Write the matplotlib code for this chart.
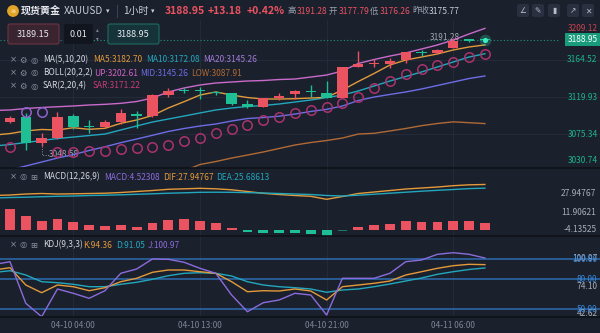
import numpy as np
import matplotlib
matplotlib.use("Agg")
import matplotlib.pyplot as plt
from matplotlib.patches import FancyBboxPatch, Circle
from matplotlib import transforms

plt.rcParams['font.family'] = ['Noto Sans CJK SC', 'DejaVu Sans']

# ---- data (1h candles, 04-10 00:00 .. 04-11 08:00) ----
opens = [3090.2, 3095.8, 3064.1, 3070.2, 3097.0, 3084.4, 3083.4, 3090.2, 3099.1, 3097.0,
         3122.3, 3127.5, 3127.8, 3126.3, 3124.4, 3111.1, 3107.5, 3119.1, 3123.2, 3127.2,
         3125.1, 3118.7, 3156.5, 3160.1, 3159.7, 3164.5, 3173.8, 3172.6, 3178.6, 3188.6, 3189.3]
highs = [3097.0, 3101.0, 3076.6, 3102.2, 3099.4, 3092.2, 3092.2, 3105.5, 3103.1, 3123.6,
         3131.1, 3130.8, 3132.4, 3127.5, 3124.8, 3116.3, 3118.7, 3124.4, 3128.4, 3134.4,
         3139.2, 3156.5, 3175.7, 3165.4, 3166.6, 3174.5, 3176.6, 3177.4, 3191.28, 3190.4, 3190.5]
lows = [3088.6, 3056.1, 3061.0, 3068.9, 3081.4, 3076.2, 3082.2, 3087.0, 3082.2, 3096.4,
        3119.6, 3124.8, 3117.2, 3122.3, 3110.9, 3106.3, 3107.3, 3116.3, 3117.5, 3119.6,
        3118.4, 3118.4, 3156.5, 3156.5, 3154.5, 3161.3, 3169.7, 3171.4, 3178.6, 3186.2, 3187.8]
closes = [3095.0, 3064.9, 3070.2, 3096.2, 3083.4, 3083.4, 3089.4, 3100.3, 3097.0, 3122.3,
          3127.2, 3126.6, 3126.6, 3124.4, 3111.5, 3107.5, 3118.4, 3121.5, 3127.2, 3126.0,
          3119.1, 3155.7, 3159.3, 3160.9, 3163.7, 3173.8, 3172.6, 3176.6, 3187.8, 3188.0, 3188.95]
low_mark = 3048.58   # marked period low (index 2)

sar = [3059.3, 3101.9, 3101.9, 3053.1, 3053.7, 3054.9, 3054.9, 3056.7, 3058.5, 3060.0,
       3062.7, 3066.9, 3071.1, 3076.6, 3081.4, 3086.8, 3092.2, 3096.4, 3100.3, 3104.3,
       3108.3, 3113.1, 3119.9, 3130.2, 3139.8, 3147.7, 3153.7, 3158.1, 3162.1, 3167.8, 3171.22]

# line series start one bar before the first visible candle
ma5 = [3074.1, 3075.9, 3079.0, 3080.8, 3080.2, 3082.9, 3081.0, 3082.2, 3088.2, 3092.2, 3097.6,
       3106.7, 3114.3, 3122.3, 3126.0, 3122.3, 3119.3, 3117.5, 3117.5, 3117.9, 3118.7, 3119.6,
       3128.4, 3138.6, 3148.3, 3158.5, 3164.5, 3168.1, 3171.8, 3176.6, 3180.2, 3182.70]
ma10 = [3060.9, 3062.7, 3065.1, 3067.5, 3069.9, 3071.7, 3073.5, 3075.3, 3080.2, 3085.0, 3089.8,
        3093.4, 3097.0, 3100.7, 3104.3, 3106.7, 3108.5, 3109.7, 3111.5, 3113.9, 3116.3, 3119.3,
        3122.3, 3127.2, 3133.2, 3139.2, 3144.6, 3150.1, 3156.1, 3162.1, 3168.1, 3172.08]
boll_up = [3103.7, 3104.3, 3106.1, 3107.3, 3108.2, 3109.1, 3110.3, 3111.1, 3112.3, 3114.5, 3118.7,
           3126.0, 3130.8, 3134.4, 3136.8, 3138.0, 3139.2, 3139.8, 3141.0, 3141.6, 3144.0, 3146.4,
           3151.3, 3160.3, 3165.1, 3169.3, 3173.0, 3177.8, 3182.6, 3188.6, 3195.9, 3202.61]
boll_mid = [3028.3, 3032.0, 3036.8, 3041.6, 3046.4, 3050.6, 3055.5, 3060.0, 3064.9, 3069.3, 3073.8,
            3078.4, 3082.0, 3085.0, 3087.4, 3091.0, 3094.0, 3095.2, 3096.8, 3099.4, 3102.5, 3105.1,
            3109.1, 3115.7, 3119.9, 3123.0, 3126.0, 3129.6, 3133.8, 3138.0, 3142.2, 3145.26]
boll_low = [np.nan] * 12 + [3030.8, 3038.6, 3042.2, 3046.4, 3050.0, 3053.7, 3057.9, 3062.1, 3065.1,
                            3067.5, 3070.5, 3075.3, 3076.2, 3079.0, 3082.0, 3085.4, 3088.0, 3090.0,
                            3089.0, 3087.91]

dif = [21.22, 21.52, 22.13, 22.44, 22.13, 22.26, 22.44, 22.62, 23.05, 23.66, 24.27, 25.0, 25.30,
       25.61, 25.30, 24.70, 23.66, 22.56, 21.83, 21.22, 20.73, 18.90, 20.61, 22.44, 23.35, 24.27,
       25.18, 25.79, 26.40, 27.20, 27.74, 27.95]
dea = [19.70, 20.0, 20.18, 20.49, 20.73, 20.91, 21.22, 21.40, 21.65, 21.95, 22.26, 22.62, 22.87,
       23.17, 23.23, 23.17, 22.99, 22.74, 22.44, 22.13, 21.83, 21.22, 20.91, 21.40, 22.01, 22.62,
       23.23, 23.84, 24.39, 24.88, 25.43, 25.69]
macd_hist = [13.0, 9.0, 5.9, 6.9, 5.1, 3.2, 2.6, 3.2, 2.3, 4.5, 6.3, 6.9, 5.9, 4.7, 1.2, -1.2,
             -1.8, -1.8, -1.8, -2.0, -3.2, -0.3, 2.0, 3.5, 3.8, 5.5, 5.1, 5.1, 5.5, 5.5, 4.52]

k_line = [89, 91.3, 74, 66.3, 74, 72.3, 68.3, 71.3, 77.3, 80.7, 86.7, 89, 89, 87.3, 85.7, 77.3,
          67.3, 68.3, 68, 70, 68, 59, 72.3, 74, 75.7, 78, 84, 87.3, 90.7, 93.3, 94.7, 94.36]
d_line = [86.5, 88.3, 84, 77.3, 76.3, 74.7, 72.3, 72.3, 74.7, 76.7, 79.7, 83.3, 85.7, 86.3, 85.7,
          83, 77.3, 74, 72.3, 71.3, 70, 66.7, 69, 70, 72.3, 75, 78, 81, 84.7, 87.3, 89.5, 91.05]
j_line = [94.5, 97.3, 55.7, 42.3, 70, 65.7, 60.7, 68.3, 85.7, 90, 100, 99.7, 96.7, 90.7, 85.7, 64,
          47.3, 56.3, 59, 65.7, 64, 44, 80.7, 80.7, 80.7, 85.7, 97.3, 99, 104.7, 106.3, 104.7, 100.97]

time_ticks = [4, 12, 20, 28]
time_labels = ['04-10 04:00', '04-10 13:00', '04-10 21:00', '04-11 06:00']
price_ticks = [3164.52, 3119.93, 3075.34]

# ---- colours ----
BG = '#1b202d'
RED = '#eb5361'
GREEN = '#1fbf95'
ORANGE = '#e39a3b'
TEAL = '#22a7bd'
PINK = '#c96bcb'
BLUE = '#6d6de6'
BROWN = '#b06a35'
PURPLE = '#8b6cdc'
SARC = '#ab336d'
SARC_TOP = '#8f62cc'
GREY = '#9aa1ad'
GRID = '#242a38'

W, H = 600, 333
fig = plt.figure(figsize=(6, 3.33), dpi=100, facecolor=BG)


def pane(top, bottom):
    a = fig.add_axes([0, 1 - bottom / H, 1, (bottom - top) / H])
    a.set_facecolor(BG)
    a.set_xlim(-0.63, 37.27)
    a.set_xticks([])
    a.set_yticks([])
    for s in a.spines.values():
        s.set_visible(False)
    for t in time_ticks:
        a.axvline(t, color=GRID, lw=0.8, zorder=0)
    return a


ax = pane(20, 168)
axm = pane(168, 236)
axk = pane(236, 317)

idx = np.arange(len(closes))
lx = np.arange(-1, len(closes))

# ---- main pane ----
ax.set_ylim(3034.4, 3212.7)
for p in price_ticks:
    ax.axhline(p, color=GRID, lw=0.8, zorder=0)

ax.plot(lx, boll_up, color=PINK, lw=1.0, zorder=2)
ax.plot(lx, boll_low, color=BROWN, lw=1.0, zorder=2)
ax.plot(lx, boll_mid, color=BLUE, lw=1.0, zorder=2)
ax.plot(lx, ma10, color=TEAL, lw=1.0, zorder=2)
ax.plot(lx, ma5, color=ORANGE, lw=1.0, zorder=2)

o = np.array(opens); c = np.array(closes)
cols = [RED if cc > oo else GREEN for oo, cc in zip(o, c)]
ax.vlines(idx, lows, highs, colors=cols, lw=1.0, zorder=3)
ax.bar(idx, np.maximum(np.abs(c - o), 1.3), bottom=np.minimum(o, c), width=0.66,
       color=cols, zorder=3)

sar_a = np.array(sar)
above = sar_a > c
ax.plot(idx[~above], sar_a[~above], 'o', ms=6.8, mfc='none', mec=SARC, mew=1.1, zorder=4)
ax.plot(idx[above], sar_a[above], 'o', ms=6.8, mfc='none', mec=SARC_TOP, mew=1.1, zorder=4)

# current price line and glowing dot
ax.axhline(closes[-1], xmin=0, xmax=0.93, color='#1f9279', lw=0.8, ls=(0, (1, 2)), zorder=1)
ax.scatter([idx[-1]], [closes[-1]], s=70, color='#2fe3b5', alpha=0.25, zorder=5, lw=0)
ax.scatter([idx[-1]], [closes[-1]], s=14, color='#3af0c0', zorder=5, lw=0)

# high / low markers
ilo = 2
ax.plot([ilo, ilo, ilo + 0.45], [lows[ilo], low_mark + 1.5, low_mark + 1.5], color='#8a909c',
        lw=0.7, ls=(0, (1, 1.5)), zorder=1)
ax.text(ilo + 0.45, low_mark + 1.8, f'{low_mark:.2f}', color='#a0a6b2', fontsize=6,
        va='center', ha='left', zorder=1)
ihi = int(np.argmax(highs))
ax.text(ihi + 0.4, highs[ihi], f'{highs[ihi]:.2f}', color='#a0a6b2', fontsize=6,
        va='center', ha='right', zorder=1)

ty = transforms.blended_transform_factory(ax.transAxes, ax.transData)
for p in price_ticks:
    ax.text(0.996, p, f'{p:.2f}', transform=ty, ha='right', va='center', fontsize=6, color='#1db38a')
ax.text(0.996, 0.94, '3209.12', transform=ax.transAxes, ha='right', va='center', fontsize=6, color='#c8434f')
ax.text(0.996, 0.05, '3030.74', transform=ax.transAxes, ha='right', va='center', fontsize=6, color='#1db38a')
ax.text(0.996, closes[-1], f'{closes[-1]:.2f}', transform=ty, ha='right', va='center', fontsize=6,
        color='white', zorder=6, bbox=dict(boxstyle='square,pad=0.25', fc='#189c7c', ec='none'))

# ---- MACD pane ----
axm.set_ylim(-3.48, 38.0)
hcols = [RED if v > 0 else GREEN for v in macd_hist]
hcols[21] = '#177a64'
axm.bar(idx, macd_hist, width=0.62, color=hcols, zorder=2)
axm.plot(lx, dif, color=ORANGE, lw=1.0, zorder=3)
axm.plot(lx, dea, color=TEAL, lw=1.0, zorder=3)
for yf, s in [(0.63, '27.94767'), (0.35, '11.90621'), (0.09, '-4.13525')]:
    axm.text(0.994, yf, s, transform=axm.transAxes, ha='right', va='center', fontsize=6, color='#a8aeb9')

# ---- KDJ pane ----
axk.set_ylim(42, 123)
for v in (100, 80, 50):
    axk.axhline(v, color='#2d6cb0', lw=1.1, zorder=1)
axk.plot(lx, d_line, color=TEAL, lw=1.0, zorder=3)
axk.plot(lx, k_line, color=ORANGE, lw=1.0, zorder=3)
axk.plot(lx, j_line, color=PURPLE, lw=1.0, zorder=3)
tk = transforms.blended_transform_factory(axk.transAxes, axk.transData)
axk.text(0.996, 100.97, '100.97', transform=tk, ha='right', va='center', fontsize=6, color='#a8aeb9')
axk.text(0.996, 72.4, '74.10', transform=tk, ha='right', va='center', fontsize=6, color='#a8aeb9')
axk.text(0.996, 0.045, '42.62', transform=axk.transAxes, ha='right', va='center', fontsize=6, color='#a8aeb9')
for v in (100, 80, 50):
    axk.text(0.996, v, f'{v:.2f}', transform=tk, ha='right', va='center', fontsize=6, color='#3a88d8')

# time labels
tt = transforms.blended_transform_factory(axk.transData, fig.transFigure)
for t, s in zip(time_ticks, time_labels):
    axk.text(t, 1 - 325 / H, s, transform=tt, ha='center', va='center', fontsize=6,
             color='#7d8494', clip_on=False)

# ---- overlay: header, boxes, legends ----
ov = fig.add_axes([0, 0, 1, 1], zorder=10)
ov.set_xlim(0, W)
ov.set_ylim(H, 0)
ov.axis('off')
ov.patch.set_alpha(0)

for yy in (168, 236, 317):
    ov.plot([0, W], [yy, yy], color='#0e1117', lw=1.2)

ov.add_patch(Circle((13, 11), 5.2, color='#e2a528'))
ov.text(13, 11.3, '≋', color='#fff3d0', fontsize=4.5, ha='center', va='center', family='DejaVu Sans')
hy = 11
ov.text(21, hy, '现货黄金', color='#e6e8ee', fontsize=7.2, va='center', weight='bold')
ov.text(64, hy, 'XAUUSD', color='#c9cdd6', fontsize=7.2, va='center')
ov.text(106, hy, '▾', color='#c9cdd6', fontsize=5, va='center', family='DejaVu Sans')
ov.plot([117, 117], [5, 17], color='#3a4152', lw=0.8)
ov.text(123, hy, '1小时', color='#c9cdd6', fontsize=7.2, va='center')
ov.text(151, hy, '▾', color='#c9cdd6', fontsize=5, va='center', family='DejaVu Sans')
ov.text(165, hy, '3188.95', color=RED, fontsize=7.5, va='center', weight='bold')
ov.text(208, hy, '+13.18', color=RED, fontsize=7.5, va='center', weight='bold')
ov.text(247, hy, '+0.42%', color=RED, fontsize=7.5, va='center', weight='bold')
for x, s, col in [(288, '高', GREY), (297, '3191.28', RED), (329, '开', GREY), (339, '3177.79', RED),
                  (370, '低', GREY), (380, '3176.26', RED), (412, '昨收', GREY), (429, '3175.77', '#c9cdd6')]:
    ov.text(x, hy, s, color=col, fontsize=6.1, va='center')
for x, g in zip([517, 532, 548, 567, 582], ['∠', '✎', '▮', '↗', '✕']):
    ov.add_patch(FancyBboxPatch((x, 4), 12, 13, boxstyle='round,pad=0,rounding_size=2',
                                fc='#2a3040', ec='none'))
    ov.text(x + 6, 10.8, g, color='#b8bdc8', fontsize=5.5, ha='center', va='center', family='DejaVu Sans')

# bid / ask boxes
ov.add_patch(FancyBboxPatch((8, 24), 51, 20, boxstyle='round,pad=0,rounding_size=2',
                            fc='#3a2430', ec='#6c3341', lw=0.8))
ov.text(33.5, 34.5, '3189.15', color='#e6e8ee', fontsize=6.5, ha='center', va='center')
ov.add_patch(FancyBboxPatch((64, 24), 29, 20, boxstyle='round,pad=0,rounding_size=2',
                            fc='#11151d', ec='none'))
ov.text(78.5, 34.5, '0.01', color='#e6e8ee', fontsize=6.5, ha='center', va='center')
ov.text(97.5, 30, '▴', color='#7d8494', fontsize=4, ha='center', va='center', family='DejaVu Sans')
ov.text(97.5, 39, '▾', color='#7d8494', fontsize=4, ha='center', va='center', family='DejaVu Sans')
ov.add_patch(FancyBboxPatch((108, 24), 51, 20, boxstyle='round,pad=0,rounding_size=2',
                            fc='#17333a', ec='#1d6b5d', lw=0.8))
ov.text(133.5, 34.5, '3188.95', color='#e6e8ee', fontsize=6.5, ha='center', va='center')


def legend_row(y, icons, items):
    for x, g in zip([13, 23, 34], icons):
        ov.text(x, y, g, color='#8a90a0', fontsize=6, ha='center', va='center', family='DejaVu Sans')
    for x, s, col in items:
        ov.text(x, y, s, color=col, fontsize=6, va='center')


WHITE = '#d4d7de'
legend_row(60, ['×', '⚙', '◎'], [(43, 'MA(5,10,20)', WHITE), (93, 'MA5:3182.70', ORANGE),
                                  (146, 'MA10:3172.08', TEAL), (203, 'MA20:3145.26', '#a27bd8')])
legend_row(73, ['×', '⚙', '◎'], [(43, 'BOLL(20,2,2)', WHITE), (94, 'UP:3202.61', '#cf62c4'),
                                  (140, 'MID:3145.26', BLUE), (191, 'LOW:3087.91', BROWN)])
legend_row(86, ['×', '⚙', '◎'], [(43, 'SAR(2,20,4)', WHITE), (93, 'SAR:3171.22', '#c83c7a')])
legend_row(177, ['×', '◎', '⊞'], [(43, 'MACD(12,26,9)', WHITE), (104, 'MACD:4.52308', PURPLE),
                                   (163, 'DIF:27.94767', ORANGE), (216, 'DEA:25.68613', TEAL)])
legend_row(245, ['×', '◎', '⊞'], [(43, 'KDJ(9,3,3)', WHITE), (83, 'K:94.36', ORANGE),
                                   (116, 'D:91.05', TEAL), (148, 'J:100.97', PURPLE)])

fig.savefig('out.png', dpi=100, facecolor=BG)
